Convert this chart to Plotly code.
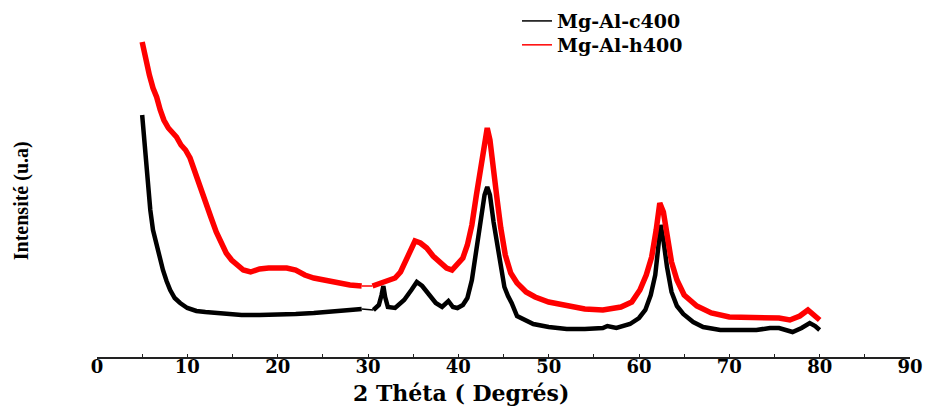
import plotly.graph_objects as go

# Mg-Al-c400 (black) : 2theta (deg) and intensity (a.u.), gap near 30 deg
c400_theta_a = [5.0, 5.3, 5.6, 5.9, 6.2, 6.6, 7.0, 7.3, 7.7, 8.1, 8.6, 9.2, 10, 11, 12, 14, 16, 18, 20,
                22, 24, 26, 28, 29.3]
c400_int_a = [242, 207, 172, 147, 127, 112, 97, 87, 76, 67, 59, 54, 49, 46, 45, 43, 42, 42, 42,
              43, 44, 45, 47, 48]
c400_theta_b = [30.6, 31.2, 31.5, 31.7, 31.9, 32.2, 33, 34, 34.8, 35.4, 36, 36.8, 37.5, 38.2, 38.9, 39.4,
                39.9, 40.5, 41.0, 41.5, 42.0, 42.5, 42.9, 43.2, 43.5, 43.9, 44.3, 44.7, 45.1, 45.5,
                45.9, 46.5, 47.3, 48.3, 50, 52, 54, 56, 56.5, 57.5, 59, 60, 60.7, 61.3, 61.8, 62.1,
                62.4, 62.7, 63.1, 63.6, 64.2, 64.9, 66, 67.1, 69, 71, 73, 74.5, 75.5, 77, 78, 78.9,
                79.5, 80]
c400_int_b = [47, 52, 62, 71, 60, 50, 49, 57, 67, 75, 71, 62, 54, 50, 56, 50,
              49, 52, 59, 77, 107, 139, 162, 170, 162, 135, 112, 92, 70, 61,
              54, 41, 37, 33, 30, 28, 28, 29, 31, 29, 33, 39, 47, 62, 82, 107,
              132, 117, 90, 65, 51, 43, 35, 30, 27, 27, 27, 29, 29, 25, 29, 34,
              31, 27]

# Mg-Al-h400 (red)
h400_theta_a = [5.0, 5.2, 5.4, 5.8, 6.2, 6.6, 7.0, 7.4, 7.9, 8.4, 8.8, 9.3, 9.8, 10.3, 10.8, 11.4, 12.0,
                12.6, 13.2, 13.8, 14.3, 14.9, 15.5, 16.2, 17, 18, 19, 20, 21, 22, 23, 24, 25, 26,
                27, 28, 29.3]
h400_int_a = [315, 305, 297, 282, 269, 260, 247, 237, 229, 224, 220, 212, 207, 199, 187, 172, 157,
              140, 125, 114, 104, 97, 92, 87, 85, 88, 89, 89, 89, 87, 82, 79, 77, 75,
              74, 72, 71]
h400_theta_b = [30.5, 31.5, 32.3, 33, 33.6, 34.2, 34.7, 35.2, 35.8, 36.5, 37.2, 38, 38.7, 39.3, 40,
                40.5, 41.0, 41.5, 42.0, 42.5, 42.9, 43.2, 43.5, 43.9, 44.3, 44.7, 45.2, 45.8, 46.5,
                47.5, 48.5, 50, 52, 54, 56, 58, 59.2, 60.1, 60.8, 61.4, 61.9, 62.3, 62.7, 63.1,
                63.6, 64.2, 65, 66.4, 68, 70, 72, 74, 75.5, 76.7, 77.8, 78.7, 79.3, 80]
h400_int_b = [71, 74, 76, 79, 85, 97, 109, 116, 114, 109, 101, 94, 89, 87, 93,
              99, 112, 132, 162, 194, 219, 229, 217, 180, 157, 129, 102, 84, 74,
              65, 60, 55, 51, 48, 47, 50, 55, 67, 82, 100, 127, 154, 145, 120,
              95, 77, 62, 51, 44, 40, 40, 40, 39, 37, 41, 47, 43, 37]

x_ticks = [0, 10, 20, 30, 40, 50, 60, 70, 80, 90]
series_names = ["Mg-Al-c400", "Mg-Al-h400"]
x_title = "2 Théta ( Degrés)"
y_title = "Intensité (u.a)"

fig = go.Figure()
# thin connectors across the data gap (also used as legend entries)
fig.add_trace(go.Scatter(x=[c400_theta_a[-1], c400_theta_b[0]], y=[c400_int_a[-1], c400_int_b[0]],
                         mode="lines", line=dict(color="black", width=1.5), name=series_names[0],
                         showlegend=True, legend="legend"))
fig.add_trace(go.Scatter(x=[h400_theta_a[-1], h400_theta_b[0]], y=[h400_int_a[-1], h400_int_b[0]],
                         mode="lines", line=dict(color="#ff0000", width=1.5), name=series_names[1],
                         showlegend=True, legend="legend2"))
fig.add_trace(go.Scatter(x=c400_theta_a + [None] + c400_theta_b, y=c400_int_a + [None] + c400_int_b,
                         mode="lines", line=dict(color="black", width=4.5), showlegend=False,
                         connectgaps=False))
fig.add_trace(go.Scatter(x=h400_theta_a + [None] + h400_theta_b, y=h400_int_a + [None] + h400_int_b,
                         mode="lines", line=dict(color="#ff0000", width=5.5), showlegend=False,
                         connectgaps=False))

leg_font = dict(family="DejaVu Serif", size=19, color="black", weight="bold")
fig.update_layout(
    width=925, height=408,
    margin=dict(l=97, r=15, t=0, b=51),
    paper_bgcolor="white", plot_bgcolor="white",
    showlegend=True,
    legend=dict(x=0.5166, y=0.941, xanchor="left", yanchor="middle", bgcolor="rgba(0,0,0,0)",
                font=leg_font),
    legend2=dict(x=0.5166, y=0.874, xanchor="left", yanchor="middle", bgcolor="rgba(0,0,0,0)",
                 font=leg_font),
    xaxis=dict(range=[0, 90], tickvals=x_ticks, ticktext=[f"<b>{v}</b>" for v in x_ticks],
               showgrid=False, zeroline=False, showline=True, linecolor="#222", linewidth=2,
               ticks="inside", ticklen=3, tickcolor="#222", ticklabelstandoff=-8,
               minor=dict(dtick=5, ticks="inside", ticklen=3, tickcolor="#222"),
               tickfont=dict(family="DejaVu Serif", size=18, color="black")),
    yaxis=dict(range=[0, 357], visible=False),
    annotations=[
        dict(text=f"<b>{x_title}</b>", xref="paper", yref="paper", x=0.448, y=-0.1,
             xanchor="center", yanchor="middle", showarrow=False,
             font=dict(family="DejaVu Serif", size=22, color="black")),
        dict(text=f"<b>{y_title}</b>", xref="paper", yref="paper", x=-0.092, y=0.437,
             xanchor="center", yanchor="middle", showarrow=False, textangle=-90,
             font=dict(family="Liberation Serif", size=20, color="black")),
    ],
)
fig.write_html("out.html")
